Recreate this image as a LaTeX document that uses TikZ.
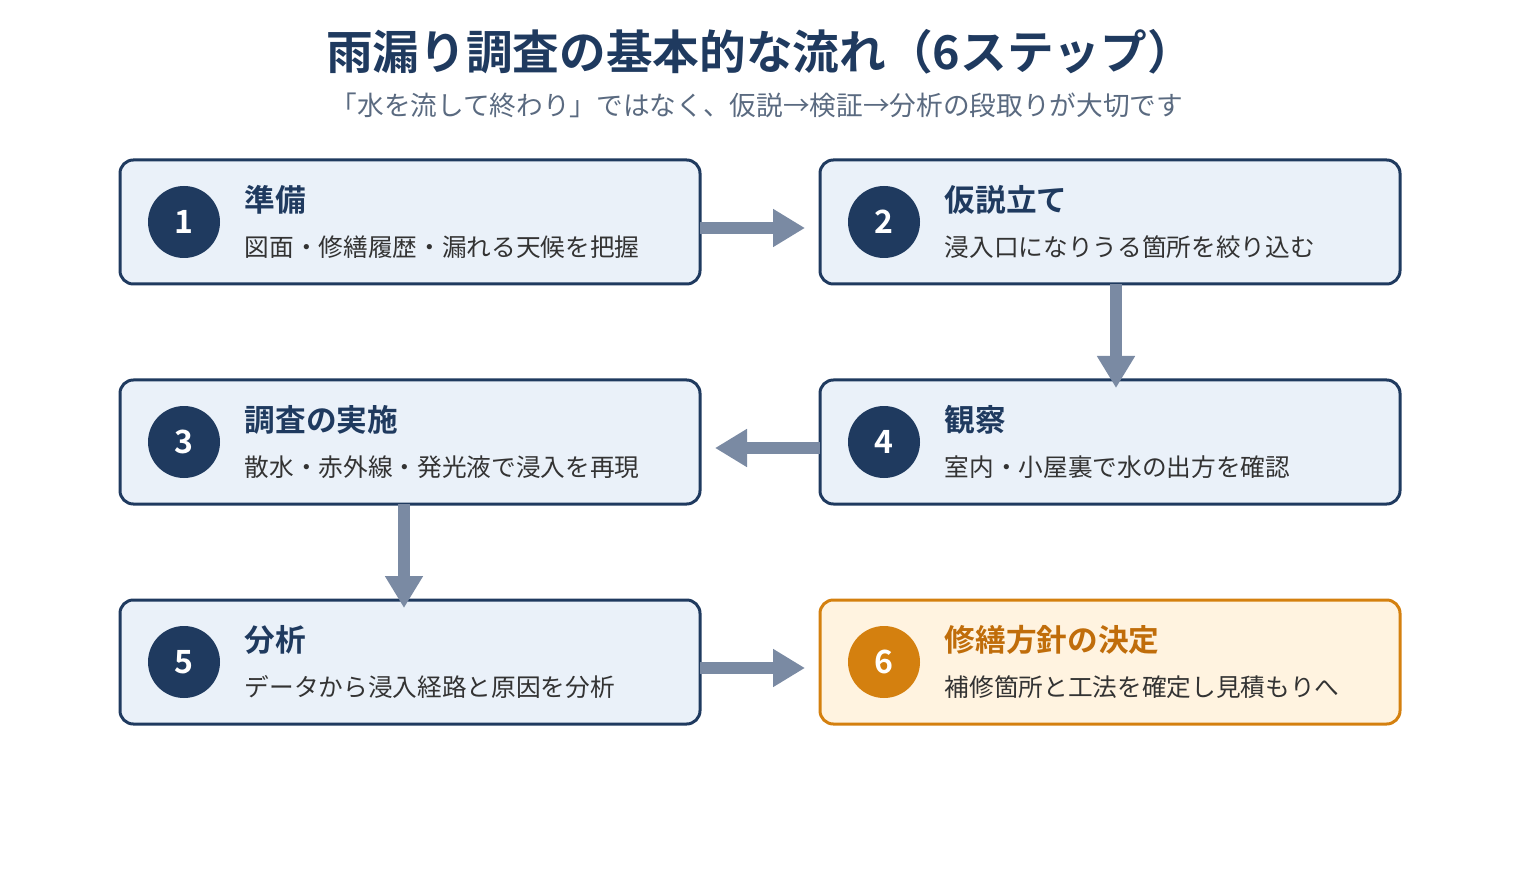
\documentclass[tikz,border=0pt]{standalone}
\usepackage{fontspec}
\setmainfont{Noto Sans CJK JP}[BoldFont={Noto Sans CJK JP Bold}]
\usetikzlibrary{arrows.meta}
\definecolor{navy}{HTML}{1F3A5F}
\definecolor{boxfill}{HTML}{EAF1F9}
\definecolor{arr}{HTML}{7A8AA3}
\definecolor{org}{HTML}{D4800F}
\definecolor{orgfill}{HTML}{FFF3E0}
\definecolor{orgtext}{HTML}{C06D0A}
\definecolor{body}{HTML}{333333}
\definecolor{sub}{HTML}{5A6A80}
\begin{document}
\begin{tikzpicture}[x=0.75pt,y=-0.75pt,
  box/.style={draw=navy,fill=boxfill,line width=2.25pt,rounded corners=10pt,minimum width=435pt,minimum height=93pt,inner sep=0pt},
  obox/.style={box,draw=org,fill=orgfill},
  num/.style={circle,fill=navy,minimum size=54pt,inner sep=0pt,text=white,font=\fontsize{24}{24}\selectfont\bfseries},
  onum/.style={num,fill=org},
  head/.style={anchor=west,text=navy,font=\fontsize{23}{23}\selectfont\bfseries},
  ohead/.style={head,text=orgtext},
  desc/.style={anchor=west,text=body,font=\fontsize{18.5}{18.5}\selectfont},
  flow/.style={draw=arr,line width=9pt,-{Triangle[length=24pt,width=27pt]}}]
\useasboundingbox (0,0) rectangle (1520,880);
\node[text=navy,font=\fontsize{35}{35}\selectfont\bfseries] (title) at (760,52) {雨漏り調査の基本的な流れ（6ステップ）};
\node[text=sub,font=\fontsize{20}{20}\selectfont] (subtitle) at (757,105) {「水を流して終わり」ではなく、仮説→検証→分析の段取りが大切です};
% boxes
\node[box] (b1) at (410,222) {};
\node[box] (b2) at (1110,222) {};
\node[box] (b3) at (410,442) {};
\node[box] (b4) at (1110,442) {};
\node[box] (b5) at (410,662) {};
\node[obox] (b6) at (1110,662) {};
\foreach \b/\n/\h/\d in {b1/1/準備/図面・修繕履歴・漏れる天候を把握, b2/2/仮説立て/浸入口になりうる箇所を絞り込む, b3/3/調査の実施/散水・赤外線・発光液で浸入を再現, b4/4/観察/室内・小屋裏で水の出方を確認, b5/5/分析/データから浸入経路と原因を分析}{
  \node[num] (\b n) at ([xshift=-226*0.75pt]\b.center) {\n};
  \node[head] (\b h) at ([xshift=-170*0.75pt,yshift=22*0.75pt]\b.center) {\h};
  \node[desc] (\b d) at ([xshift=-170*0.75pt,yshift=-25*0.75pt]\b.center) {\d};
}
\node[onum] (b6n) at ([xshift=-226*0.75pt]b6.center) {6};
\node[ohead] (b6h) at ([xshift=-170*0.75pt,yshift=22*0.75pt]b6.center) {修繕方針の決定};
\node[desc] (b6d) at ([xshift=-170*0.75pt,yshift=-25*0.75pt]b6.center) {補修箇所と工法を確定し見積もりへ};
% arrows
\coordinate (a1s) at (700,228); \coordinate (a1e) at (805,228);
\coordinate (a2s) at (1116,284); \coordinate (a2e) at (1116,388);
\coordinate (a3s) at (820,448); \coordinate (a3e) at (715,448);
\coordinate (a4s) at (404,504); \coordinate (a4e) at (404,608);
\coordinate (a5s) at (700,668); \coordinate (a5e) at (805,668);
\draw[flow] (a1s) -- (a1e);
\draw[flow] (a2s) -- (a2e);
\draw[flow] (a3s) -- (a3e);
\draw[flow] (a4s) -- (a4e);
\draw[flow] (a5s) -- (a5e);
\end{tikzpicture}
\end{document}
